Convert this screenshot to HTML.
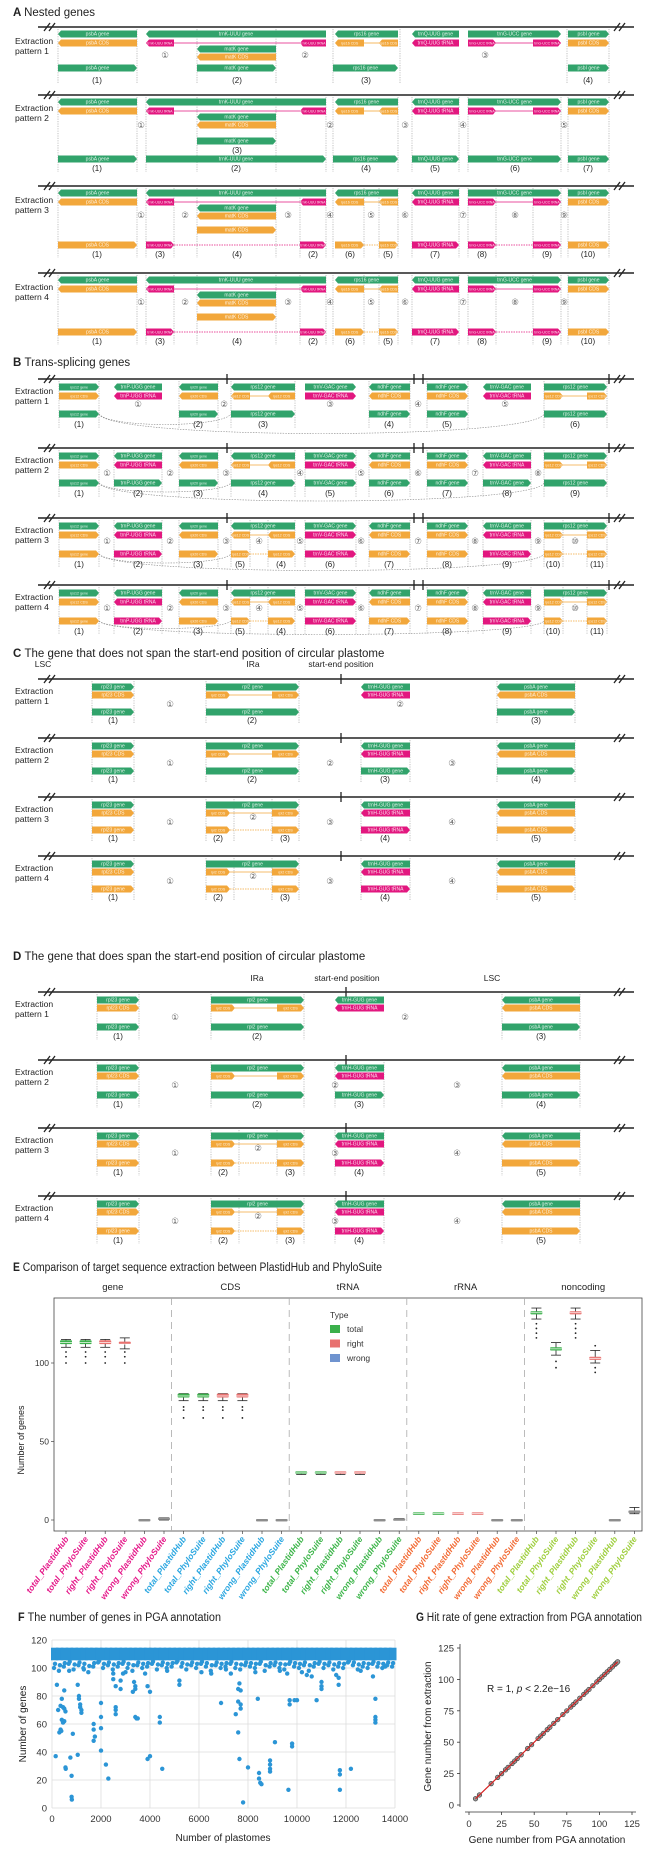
<!DOCTYPE html>
<html><head><meta charset="utf-8">
<style>
html,body{margin:0;padding:0;background:#fff;}
svg{display:block;font-family:"Liberation Sans",Arial,sans-serif;}
</style></head>
<body>
<svg id="fig" width="656" height="1860" viewBox="0 0 656 1860" xmlns="http://www.w3.org/2000/svg">
<rect x="0" y="0" width="656" height="1860" fill="#fff"/>
</svg>
<script>
// ===== Panel E data =====
const facets = ['gene','CDS','tRNA','rRNA','noncoding'];
const facetColors = ['#e5198a','#2aa6e0','#3db54a','#f26b35','#9fcf3e'];
const cats = ['total_PlastidHub','total_PhyloSuite','right_PlastidHub','right_PhyloSuite','wrong_PlastidHub','wrong_PhyloSuite'];
const median = [113,113,113,112,0,0.5, 79,79,79,79,0,0, 30,30,30,30,0,0, 4,4,4,4,0,0, 132,109,132,103,0,5];
const q1     = [112,112,112,111.5,0,0, 78,78,78,78,0,0, 29.6,29.6,29.6,29.6,0,0, 3.8,3.8,3.8,3.8,0,0, 131,108,131,102,0,4.5];
const q3     = [114.5,114.5,114.5,113,0,1, 80.5,80.5,80.5,80.5,0,0, 30.3,30.3,30.3,30.3,0,0.5, 4.2,4.2,4.2,4.2,0,0, 133,110,133,104,0,5.5];
const whLo   = [110,110,110,109,0,0, 76,76,76,76,0,0, 29,29,29,29,0,0, 4,4,4,4,0,0, 128,105,128,100,0,4];
const whHi   = [115,115,115,116,0,1.5, 80.5,80.5,80.5,80.5,0,0, 30.5,30.5,30.5,30.5,0,1, 4,4,4,4,0,0, 135,113,135,108,0,8];
const outIdx = [0,0,0,1,1,1,2,2,2,3,3,3, 6,6,6,7,7,7,8,8,8,9,9,9, 24,24,24,24,25,25,26,26,26,26,27,27,27];
const outVal = [107,104,100,107,104,100,107,104,100,107,104,100, 72,70,65,72,70,65,72,70,65,72,70,65, 125,122,119,116,101,97, 125,122,119,116,111,97,94];
const eYTicks = [0,50,100];
const legendTypes = ['total','right','wrong'];
const typeColors = ['#3bb04b','#e8716f','#6f93cf'];

// ===== Panel F data =====
const fXTicks = [0,2000,4000,6000,8000,10000,12000,14000];
const fYTicks = [0,20,40,60,80,100,120];
const bandX = [0,200,400,600,800,1000,1200,1400,1600,1800,2000,2200,2400,2600,2800,3000,3200,3400,3600,3800,4000,4200,4400,4600,4800,5000,5200,5400,5600,5800,6000,6200,6400,6600,6800,7000,7200,7400,7600,7800,8000,8200,8400,8600,8800,9000,9200,9400,9600,9800,10000,10200,10400,10600,10800,11000,11200,11400,11600,11800,12000,12200,12400,12600,12800,13000,13200,13400,13600,13800];
const bandLow = [100,98,101,103,99,102,100,97,101,104,100,102,99,101,103,100,98,102,100,101,103,99,102,100,101,104,101,99,102,100,103,101,98,102,100,101,103,100,99,102,101,100,103,98,101,102,100,99,103,101,100,102,98,101,103,100,102,99,101,100,104,102,99,101,100,103,101,100,102,101];
const fOutX = [300,150,200,250,350,400,450,500,550,400,450,500,350,380,500,550,560,750,800,800,810,850,1050,1100,1100,1150,1150,1200,1200,1050,1700,1700,1750,1700,2000,2000,2000,2000,2200,2300,2500,2500,2600,2600,2600,2600,2800,2800,2900,3300,3350,3400,3400,3400,3450,3500,3800,3900,3900,4000,4000,4400,4400,4500,5200,5200,6500,6900,7300,7500,7600,7600,7650,7700,7700,7700,7600,7650,7800,8000,8300,8400,8450,8450,8500,8550,8900,8900,8900,8900,9100,9600,9700,9700,9650,9800,9800,9900,10000,10400,10600,10800,11000,11000,11000,11600,11700,11700,11750,11750,11750,12200,13100,13200,13200,13200,13200,13600,700,1300,3000,4700,6100,7100,9300,10200,12600];
const fOutY = [54,37,88,70,73,78,72,71,69,63,61,62,56,55,84,29,28,36,23,8,6,53,88,80,78,74,72,70,68,38,60,56,51,48,75,65,57,41,31,21,96,92,87,72,70,67,91,85,96,83,90,87,85,65,64,64,96,87,35,83,37,65,61,28,91,88,96,75,96,67,85,76,89,84,74,71,54,35,4,29,97,78,25,21,18,17,34,31,28,26,47,96,77,74,13,46,44,77,77,95,94,77,90,87,85,95,93,88,27,24,13,28,94,78,65,63,61,101,98,99,97,98,97,99,98,97,98];

// ===== Panel G data =====
const gTicks = [0,25,50,75,100,125];
const gX = [5,8,17,22,25,28,30,33,35,37,40,45,48,53,55,57,60,62,65,68,72,75,78,80,82,85,88,90,92,95,98,100,102,104,106,108,110,112,113,114];
const gY = [5,8,17,22,25,28,30,33,35,37,40,45,48,53,55,57,60,62,65,68,72,75,78,80,82,85,88,90,92,95,98,100,102,104,106,108,110,112,113,114];

const NS='http://www.w3.org/2000/svg';
const svg=document.getElementById('fig');
function mk(tag,attrs,parent){const e=document.createElementNS(NS,tag);for(const k in attrs)e.setAttribute(k,attrs[k]);(parent||svg).appendChild(e);return e;}
function txt(x,y,s,size,attrs){const a=Object.assign({x:x,y:y,'font-size':size,fill:'#222'},attrs||{});const t=mk('text',a);t.textContent=s;return t;}
const COL={g:'#31a36b',o:'#f2a73b',m:'#e2177f'};

function title(x,y,letter,rest,name,len){
  const t=txt(x,y,'',11.5);
  
  
  if(len){t.setAttribute('textLength',len);t.setAttribute('lengthAdjust','spacingAndGlyphs');}
  const b=mk('tspan',{'font-weight':'bold'},t);b.textContent=letter+' ';
  const r=mk('tspan',{},t);r.textContent=rest;
}

function feature(x1,x2,y,c,label,dir){
  const h=7,tp=3,t=y-h/2,b=y+h/2;
  let pts;
  if(dir==='r')pts=`${x1},${t} ${x2-tp},${t} ${x2},${y} ${x2-tp},${b} ${x1},${b}`;
  else pts=`${x1+tp},${t} ${x2},${t} ${x2},${b} ${x1+tp},${b} ${x1},${y}`;
  const p=mk('polygon',{points:pts,fill:COL[c]});
  
  
  if(x2-x1>18){
    const s=txt((x1+x2)/2,y+1.7,label,x2-x1>40?5:3.6,{fill:'#fff','text-anchor':'middle','fill-opacity':'0.85'});
    
    
  }
}

function pattern(p){
  const y=p.y, L=p.x0||38, R=p.x1||634;
  const ln=mk('line',{x1:L,y1:y,x2:R,y2:y,stroke:'#222','stroke-width':1.6});
  
  
  const bl=[L+6,R-20];
  bl.forEach(bx=>{
    [0,5].forEach(o=>{
      const s=mk('line',{x1:bx+o,y1:y+4,x2:bx+o+6,y2:y-4,stroke:'#222','stroke-width':1.3});
      
      
    });
  });
  (p.ticks||[]).forEach(tx=>{
    const s=mk('line',{x1:tx,y1:y-5,x2:tx,y2:y+5,stroke:'#222','stroke-width':1.3});
    
    
  });
  const t1=txt(15,y+p.ly,'Extraction',8.6);
  
  
  const t2=txt(15,y+p.ly+10,'pattern '+p.n,8.6);
  
  
  const vb=y+p.lbY+4;
  p.vl.forEach(vx=>{
    const v=mk('line',{x1:vx,y1:y+2,x2:vx,y2:vb,stroke:'#999','stroke-width':0.6,'stroke-dasharray':'1.2,1.2'});
    
    
  });
  (p.links||[]).forEach(k=>{
    const v=mk('line',{x1:k[0],y1:y+k[2],x2:k[1],y2:y+k[2],stroke:COL[k[3]],'stroke-width':0.8,'stroke-dasharray':k[4]?'1.5,1':'none'});
    
    
  });
  (p.arcs||[]).forEach(a=>{
    const yy=y+a[2];
    const v=mk('path',{d:`M${a[0]},${yy} C${a[0]+10},${yy+a[3]} ${a[1]-10},${yy+a[3]} ${a[1]},${yy}`,fill:'none',stroke:'#888','stroke-width':0.6,'stroke-dasharray':'1.5,1.2'});
    
    
  });
  p.f.forEach(f=>feature(f[0],f[1],y+f[2],f[3],f[4],f[5]));
  (p.ci||[]).forEach(c=>{
    const s=txt(c[0],y+c[1]+3,c[2],8.5,{'text-anchor':'middle',fill:'#666','font-family':'"DejaVu Sans",sans-serif'});
    
    
  });
  (p.lb||[]).forEach(c=>{
    const s=txt(c[0],y+(c[2]||p.lbY)+3,c[1],8,{'text-anchor':'middle'});
    
    
  });
}

// ===== Panel A =====
title(13,16,'A','Nested genes','panel-a-title');
function aHead(){return [
 [58,137,7,'g','psbA gene','l'],[146,326,7,'g','trnK-UUU gene','l'],[335,398,7,'g','rps16 gene','l'],[412,459,7,'g','trnQ-UUG gene','l'],[468,561,7,'g','trnG-UCC gene','r'],[568,609,7,'g','psbI gene','r'],
 [58,137,16,'o','psbA CDS','l'],[146,174,16,'m','trnK-UUU tRNA','l'],[300,326,16,'m','trnK-UUU tRNA','l'],[335,364,16,'o','rps16 CDS','l'],[379,398,16,'o','rps16 CDS','l'],[412,459,16,'m','trnQ-UUG tRNA','l'],[468,496,16,'m','trnG-UCC tRNA','r'],[533,561,16,'m','trnG-UCC tRNA','r'],[568,609,16,'o','psbI CDS','r'],
 [197,276,22,'g','matK gene','l'],[197,276,30,'o','matK CDS','l']];}
const aLinks=[[174,300,16,'m',0],[364,379,16,'o',0],[496,533,16,'m',0]];
pattern({y:27,n:1,ly:17,lbY:53,vl:[58,137,197,276,333,400,567,609],
 f:aHead().concat([[58,137,41,'g','psbA gene','r'],[197,276,41,'g','matK gene','r'],[333,398,41,'g','rps16 gene','r'],[568,609,41,'g','psbI gene','r']]),
 links:aLinks,ci:[[165,28,'①'],[305,28,'②'],[485,28,'③']],lb:[[97,'(1)'],[237,'(2)'],[366,'(3)'],[588,'(4)']]});
pattern({y:95,n:2,ly:16,lbY:73,vl:[58,137,146,197,276,326,333,398,412,459,468,561,568,609],
 f:aHead().concat([[197,276,46,'g','matK gene','r'],[58,137,64,'g','psbA gene','r'],[146,326,64,'g','trnK-UUU gene','r'],[333,398,64,'g','rps16 gene','r'],[412,459,64,'g','trnQ-UUG gene','r'],[468,561,64,'g','trnG-UCC gene','r'],[568,609,64,'g','psbI gene','r']]),
 links:aLinks,ci:[[141,30,'①'],[330,30,'②'],[405,30,'③'],[463,30,'④'],[564,30,'⑤']],
 lb:[[237,'(3)',55],[97,'(1)'],[236,'(2)'],[366,'(4)'],[435,'(5)'],[515,'(6)'],[588,'(7)']]});
function aRes(){return [[197,276,44,'o','matK CDS','r'],[58,137,59,'o','psbA CDS','r'],[146,174,59,'m','trnK-UUU tRNA','r'],[300,326,59,'m','trnK-UUU tRNA','r'],[335,364,59,'o','rps16 CDS','r'],[379,398,59,'o','rps16 CDS','r'],[412,459,59,'m','trnQ-UUG tRNA','r'],[468,496,59,'m','trnG-UCC tRNA','r'],[533,561,59,'m','trnG-UCC tRNA','r'],[568,609,59,'o','psbI CDS','r']];}
const aResLinks=[[174,300,59,'m',1],[364,379,59,'o',1],[496,533,59,'m',1]];
const aVl3=[58,137,146,174,197,276,300,326,333,364,379,398,412,459,468,496,533,561,568,609];
const aCi3=[[141,29,'①'],[185,29,'②'],[288,29,'③'],[330,29,'④'],[371,29,'⑤'],[405,29,'⑥'],[463,29,'⑦'],[515,29,'⑧'],[564,29,'⑨']];
const aLb3=[[97,'(1)'],[160,'(3)'],[237,'(4)'],[313,'(2)'],[350,'(6)'],[388,'(5)'],[435,'(7)'],[482,'(8)'],[547,'(9)'],[588,'(10)']];
pattern({y:186,n:3,ly:17,lbY:68,vl:aVl3,f:aHead().concat(aRes()),links:aLinks.concat(aResLinks),ci:aCi3,lb:aLb3});
pattern({y:273,n:4,ly:17,lbY:68,vl:aVl3,f:aHead().concat(aRes()),links:aLinks.concat(aResLinks),ci:aCi3,lb:aLb3});

// ===== Panel B =====
title(13,366,'B','Trans-splicing genes','panel-b-title');
function bHead(){return [
 [59,99,8,'g','rps12 gene','r'],[114,162,8,'g','trnP-UGG gene','l'],[179,218,8,'g','rpl20 gene','l'],[231,295,8,'g','rps12 gene','l'],[305,356,8,'g','trnV-GAC gene','r'],[369,410,8,'g','ndhF gene','l'],[427,468,8,'g','ndhF gene','r'],[483,531,8,'g','trnV-GAC gene','l'],[544,607,8,'g','rps12 gene','r'],
 [59,99,17,'o','rps12 CDS','r'],[114,162,17,'m','trnP-UGG tRNA','l'],[179,218,17,'o','rpl20 CDS','l'],[231,250,17,'o','rps12 CDS','l'],[268,295,17,'o','rps12 CDS','l'],[305,356,17,'m','trnV-GAC tRNA','r'],[369,410,17,'o','ndhF CDS','l'],[427,468,17,'o','ndhF CDS','r'],[483,531,17,'m','trnV-GAC tRNA','l'],[544,563,17,'o','rps12 CDS','r'],[587,607,17,'o','rps12 CDS','r']];}
const bLinks=[[250,268,17,'o',0],[563,587,17,'o',0]];
const bTicks=[227,414,423,609];
pattern({y:379,n:1,ly:15,lbY:45,ticks:bTicks,vl:[59,99,179,218,231,295,369,410,427,468,544,607],
 f:bHead().concat([[59,99,35,'g','rps12 gene','r'],[179,218,35,'g','rpl20 gene','r'],[231,295,35,'g','rps12 gene','r'],[369,410,35,'g','ndhF gene','r'],[427,468,35,'g','ndhF gene','r'],[544,607,35,'g','rps12 gene','r']]),
 links:bLinks,arcs:[[99,231,35,14],[99,544,35,26]],
 ci:[[138,25,'①'],[224,25,'②'],[330,25,'③'],[418,25,'④'],[505,25,'⑤']],
 lb:[[79,'(1)'],[198,'(2)'],[263,'(3)'],[389,'(4)'],[447,'(5)'],[575,'(6)']]});
pattern({y:448,n:2,ly:15,lbY:45,ticks:bTicks,vl:[59,99,114,162,179,218,231,295,305,356,369,410,427,468,483,531,544,607],
 f:bHead().concat([[59,99,35,'g','rps12 gene','r'],[114,162,35,'g','trnP-UGG gene','r'],[179,218,35,'g','rpl20 gene','r'],[231,295,35,'g','rps12 gene','r'],[305,356,35,'g','trnV-GAC gene','r'],[369,410,35,'g','ndhF gene','r'],[427,468,35,'g','ndhF gene','r'],[483,531,35,'g','trnV-GAC gene','r'],[544,607,35,'g','rps12 gene','r']]),
 links:bLinks,arcs:[[99,231,35,12],[99,544,35,24]],
 ci:[[107,25,'①'],[170,25,'②'],[226,25,'③'],[300,25,'④'],[361,25,'⑤'],[418,25,'⑥'],[475,25,'⑦'],[538,25,'⑧']],
 lb:[[79,'(1)'],[138,'(2)'],[198,'(3)'],[263,'(4)'],[330,'(5)'],[389,'(6)'],[447,'(7)'],[507,'(8)'],[575,'(9)']]});
function bRes(){return [[59,99,36,'o','rps12 gene','r'],[114,162,36,'m','trnP-UGG tRNA','r'],[179,218,36,'o','rpl20 CDS','r'],[231,250,36,'o','rps12 CDS','r'],[268,295,36,'o','rps12 CDS','r'],[305,356,36,'m','trnV-GAC tRNA','r'],[369,410,36,'o','ndhF CDS','r'],[427,468,36,'o','ndhF CDS','r'],[483,531,36,'m','trnV-GAC tRNA','r'],[544,563,36,'o','rps12 CDS','r'],[587,607,36,'o','rps12 CDS','r']];}
const bVl3=[59,99,114,162,179,218,231,250,268,295,305,356,369,410,427,468,483,531,544,563,587,607];
const bCi3=[[107,23,'①'],[170,23,'②'],[226,23,'③'],[259,23,'④'],[300,23,'⑤'],[361,23,'⑥'],[418,23,'⑦'],[475,23,'⑧'],[538,23,'⑨'],[575,23,'⑩']];
const bLb3=[[79,'(1)'],[138,'(2)'],[198,'(3)'],[240,'(5)'],[281,'(4)'],[330,'(6)'],[389,'(7)'],[447,'(8)'],[507,'(9)'],[553,'(10)'],[597,'(11)']];
const bResLinks=[[250,268,36,'o',1],[563,587,36,'o',1]];
pattern({y:518,n:3,ly:15,lbY:46,ticks:bTicks,vl:bVl3,f:bHead().concat(bRes()),links:bLinks.concat(bResLinks),arcs:[[99,231,36,12],[99,544,36,22]],ci:bCi3,lb:bLb3});
pattern({y:585,n:4,ly:15,lbY:46,ticks:bTicks,vl:bVl3,f:bHead().concat(bRes()),links:bLinks.concat(bResLinks),arcs:[[99,231,36,10],[99,544,36,18]],ci:bCi3,lb:bLb3});

// ===== Panel C =====
title(13,657,'C','The gene that does not span the start-end position of circular plastome','panel-c-title');
[[43,'LSC'],[253,'IRa'],[341,'start-end position']].forEach(a=>{
  const s=txt(a[0],667,a[1],8.5,{'text-anchor':'middle'});
  
  
});
function cHead(dx,d){return [
 [92+dx,134+dx,8,'g','rpl23 gene','r'],[206+dx,299+dx,8,'g','rpl2 gene','r'],[361+d,410+d,8,'g','trnH-GUG gene','l'],[497+dx,575+dx,8,'g','psbA gene','l'],
 [92+dx,134+dx,16,'o','rpl23 CDS','r'],[206+dx,230+dx,16,'o','rpl2 CDS','r'],[272+dx,299+dx,16,'o','rpl2 CDS','r'],[361+d,410+d,16,'m','trnH-GUG tRNA','l'],[497+dx,575+dx,16,'o','psbA CDS','l']];}
function cPatterns(base,sp,dx,d,tick,rd,labDy){
  const lk=[[230+dx,272+dx,16,'o',0]];
  pattern({y:base,n:1,ly:15,lbY:labDy,ticks:[tick],vl:[92+dx,134+dx,206+dx,299+dx,497+dx,575+dx],
    f:cHead(dx,d).concat([[92+dx,134+dx,rd,'g','rpl23 gene','r'],[206+dx,299+dx,rd,'g','rpl2 gene','r'],[497+dx,575+dx,rd,'g','psbA gene','r']]),
    links:lk,ci:[[170+dx,25,'①'],[400+dx,25,'②']],lb:[[113+dx,'(1)'],[252+dx,'(2)'],[536+dx,'(3)']]});
  pattern({y:base+sp,n:2,ly:15,lbY:labDy,ticks:[tick],vl:[92+dx,134+dx,206+dx,299+dx,361+d,410+d,497+dx,575+dx],
    f:cHead(dx,d).concat([[92+dx,134+dx,rd,'g','rpl23 gene','r'],[206+dx,299+dx,rd,'g','rpl2 gene','r'],[361+d,410+d,rd,'g','trnH-GUG gene','r'],[497+dx,575+dx,rd,'g','psbA gene','r']]),
    links:lk,ci:[[170+dx,25,'①'],[330+dx,25,'②'],[452+dx,25,'③']],lb:[[113+dx,'(1)'],[252+dx,'(2)'],[385+d,'(3)'],[536+dx,'(4)']]});
  for(let i=2;i<4;i++){
    pattern({y:base+sp*i,n:i+1,ly:15,lbY:labDy,ticks:[tick],vl:[92+dx,134+dx,206+dx,234+dx,272+dx,299+dx,361+d,410+d,497+dx,575+dx],
      f:cHead(dx,d).concat([[92+dx,134+dx,rd,'o','rpl23 gene','r'],[206+dx,230+dx,rd,'o','rpl2 CDS','r'],[272+dx,299+dx,rd,'o','rpl2 CDS','r'],[361+d,410+d,rd,'m','trnH-GUG tRNA','r'],[497+dx,575+dx,rd,'o','psbA CDS','r']]),
      links:lk.concat([[230+dx,272+dx,rd,'o',1]]),ci:[[170+dx,25,'①'],[253+dx,20,'②'],[330+dx,25,'③'],[452+dx,25,'④']],
      lb:[[113+dx,'(1)'],[218+dx,'(2)'],[285+dx,'(3)'],[385+d,'(4)'],[536+dx,'(5)']]});
  }
}
cPatterns(679,59,0,0,341,33,41);

// ===== Panel D =====
title(13,960,'D','The gene that does span the start-end position of circular plastome','panel-d-title');
[[257,'IRa'],[347,'start-end position'],[492,'LSC']].forEach(a=>{
  const s=txt(a[0],981,a[1],8.5,{'text-anchor':'middle'});
  
  
});
cPatterns(992,68,5,-26,346,35,44);

// ===== Panel E =====
title(13,1271,'E','Comparison of target sequence extraction between PlastidHub and PhyloSuite','panel-e-title',369);
const eL=54,eR=642,eT=1298,eB=1531,fw=(eR-eL)/5;
function ey(v){return 1520-v*1.57;}
function ex(i){return eL+Math.floor(i/6)*fw+12+(i%6)*19.6;}
const frame=mk('rect',{x:eL,y:eT,width:eR-eL,height:eB-eT,fill:'none',stroke:'#444','stroke-width':0.8});


facets.forEach((f,i)=>{
  const s=txt(eL+fw*i+fw/2,1290,f,9.5,{'text-anchor':'middle'});
  
  
  if(i>0){
    const d=mk('line',{x1:eL+fw*i,y1:eT,x2:eL+fw*i,y2:eB,stroke:'#aaa','stroke-width':0.8,'stroke-dasharray':'7,5'});
    
    
  }
});
eYTicks.forEach(v=>{
  const s=txt(eL-5,ey(v)+3,String(v),8.5,{'text-anchor':'end',fill:'#333'});
  
  
  const t=mk('line',{x1:eL-3,y1:ey(v),x2:eL,y2:ey(v),stroke:'#444','stroke-width':0.7});
  
  
});
const eyt=txt(0,0,'Number of genes',9,{'text-anchor':'middle',transform:'translate(24,1440) rotate(-90)'});


for(let i=0;i<30;i++){
  const x=ex(i),type=Math.floor((i%6)/2),c=typeColors[type];
  const w=mk('line',{x1:x,y1:ey(whLo[i]),x2:x,y2:ey(whHi[i]),stroke:'#222','stroke-width':0.8});
  
  
  [whLo[i],whHi[i]].forEach(v=>{
    const cp=mk('line',{x1:x-5,y1:ey(v),x2:x+5,y2:ey(v),stroke:'#222','stroke-width':0.8});
    
    
  });
  const h=Math.max(2.5,ey(q1[i])-ey(q3[i]));
  const bx=mk('rect',{x:x-6,y:ey(q3[i])-(h>2.5?0:1),width:12,height:h,fill:type===2?'#999':c,rx:1});
  
  
  const md=mk('line',{x1:x-6,y1:ey(median[i]),x2:x+6,y2:ey(median[i]),stroke:type===2?'#777':'#fff','stroke-width':0.7});
  
  
  const tk=mk('line',{x1:x,y1:eB,x2:x,y2:eB+3,stroke:'#444','stroke-width':0.7});
  
  
  const lab=txt(0,0,cats[i%6],8.5,{'text-anchor':'end','font-style':'italic','font-weight':'bold',fill:facetColors[Math.floor(i/6)],transform:`translate(${x+3},${eB+8}) rotate(-55)`});
  
  
}
outIdx.forEach((idx,k)=>{
  const o=mk('circle',{cx:ex(idx),cy:ey(outVal[k]),r:0.9,fill:'#222'});
  
  
});
const lt=txt(330,1318,'Type',8.5,{fill:'#333'});


legendTypes.forEach((t,i)=>{
  const r=mk('rect',{x:330,y:1325+i*14.5,width:10,height:8,fill:typeColors[i]});
  
  
  const s=txt(347,1332+i*14.5,t,8.5,{fill:'#333'});
  
  
});

// ===== Panel F =====
title(18,1621,'F','The number of genes in PGA annotation','panel-f-title',203);
const fL=52,fR=395,fT=1640,fB=1808;
function fx(v){return fL+v/14000*(fR-fL);}
function fy(v){return fB-v/120*(fB-fT);}
fXTicks.forEach(v=>{
  const g=mk('line',{x1:fx(v),y1:fT,x2:fx(v),y2:fB,stroke:'#ddd','stroke-width':0.8});
  
  
  const s=txt(fx(v),1822,String(v),9.5,{'text-anchor':'middle',fill:'#333'});
  
  
});
fYTicks.forEach(v=>{
  const g=mk('line',{x1:fL,y1:fy(v),x2:fR,y2:fy(v),stroke:'#ddd','stroke-width':0.8});
  
  
  const s=txt(fL-5,fy(v)+3.5,String(v),9.5,{'text-anchor':'end',fill:'#333'});
  
  
});
bandX.forEach((x,i)=>{
  const r=mk('rect',{x:fx(x)-1,y:fy(114.5),width:fx(200)-fx(0)+2.5,height:fy(105.5)-fy(114.5),fill:'#2b95d6'});
  
  
  const p=mk('circle',{cx:fx(x)+2,cy:fy(bandLow[i]),r:2.2,fill:'#2b95d6'});
  
  
  const q=mk('circle',{cx:fx(x)+3,cy:fy((bandLow[i]+106)/2),r:2.2,fill:'#2b95d6'});
  
  
});
fOutX.forEach((x,i)=>{
  const p=mk('circle',{cx:fx(x),cy:fy(fOutY[i]),r:2.2,fill:'#2b95d6'});
  
  
});
const fxt=txt(223,1841,'Number of plastomes',10,{'text-anchor':'middle'});


const fyt=txt(0,0,'Number of genes',10,{'text-anchor':'middle',transform:`translate(26,${(fT+fB)/2}) rotate(-90)`});



// ===== Panel G =====
title(416,1621,'G','Hit rate of gene extraction from PGA annotation','panel-g-title',226);
const gL=469,gR=632,gT=1648,gB=1805;
function gx(v){return gL+v/125*(gR-gL);}
function gy(v){return gB-v/125*(gB-gT);}
const ya=mk('line',{x1:460,y1:gT-4,x2:460,y2:gB+2,stroke:'#333','stroke-width':0.8});


const xa=mk('line',{x1:gL-4,y1:1812,x2:gR+4,y2:1812,stroke:'#333','stroke-width':0.8});


gTicks.forEach(v=>{
  const a=mk('line',{x1:457,y1:gy(v),x2:460,y2:gy(v),stroke:'#333','stroke-width':0.8});
  
  
  const s=txt(454,gy(v)+3.5,String(v),9.5,{'text-anchor':'end',fill:'#333'});
  
  
  const b=mk('line',{x1:gx(v),y1:1812,x2:gx(v),y2:1815,stroke:'#333','stroke-width':0.8});
  
  
  const t=txt(gx(v),1827,String(v),9.5,{'text-anchor':'middle',fill:'#333'});
  
  
});
gX.forEach((x,i)=>{
  const p=mk('circle',{cx:gx(x),cy:gy(gY[i]),r:2.3,fill:'#999',stroke:'#333','stroke-width':0.6});
  
  
});
(function(){
  const n=gX.length;let sx=0,sy=0,sxx=0,sxy=0;
  for(let i=0;i<n;i++){sx+=gX[i];sy+=gY[i];sxx+=gX[i]*gX[i];sxy+=gX[i]*gY[i];}
  const b=(n*sxy-sx*sy)/(n*sxx-sx*sx),a=(sy-b*sx)/n;
  const x0=Math.min(...gX),x1=Math.max(...gX);
  const l=mk('line',{x1:gx(x0),y1:gy(a+b*x0),x2:gx(x1),y2:gy(a+b*x1),stroke:'#d62020','stroke-width':1.2});
  
  
})();
const ann=txt(487,1692,'',10,{fill:'#222'});


const a1=mk('tspan',{},ann);a1.textContent='R = 1,  ';
const a2=mk('tspan',{'font-style':'italic'},ann);a2.textContent='p';
const a3=mk('tspan',{},ann);a3.textContent=' < 2.2e\u221216';
const gxt=txt(547,1843,'Gene number from PGA annotation',10,{'text-anchor':'middle'});


const gyt=txt(0,0,'Gene number from extraction',10,{'text-anchor':'middle',transform:`translate(431,${(gT+gB)/2}) rotate(-90)`});


</script>
</body></html>
